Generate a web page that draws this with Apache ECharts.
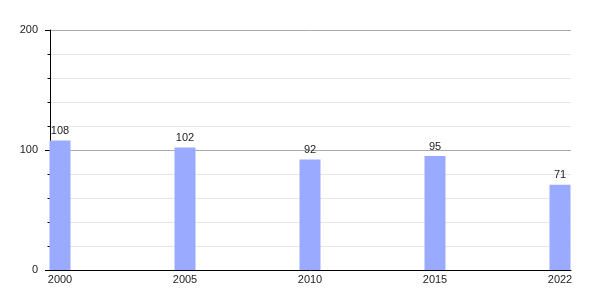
<!DOCTYPE html>
<html><head><meta charset="utf-8">
<script src="https://cdn.jsdelivr.net/npm/echarts@6/dist/echarts.min.js"></script>
<style>html,body{margin:0;padding:0;background:#fff}#c{width:600px;height:300px}</style>
</head><body><div id="c"></div>
<script>
const years = ['2000', '2005', '2010', '2015', '2022'];
const values = [108, 102, 92, 95, 71];
const yTicks = [0, 100, 200];

const chart = echarts.init(document.getElementById('c'), null, {renderer: 'canvas'});
const FONT = 'Liberation Sans, Arial, sans-serif';
chart.setOption({
  animation: false,
  grid: {left: 50, right: 29, top: 30, bottom: 30, containLabel: false},
  xAxis: {
    type: 'value',
    min: -0.08, max: 4.088,
    axisLine: {show: true, onZero: false, lineStyle: {color: '#000', width: 1}},
    axisTick: {show: false},
    splitLine: {show: false},
    axisLabel: {
      customValues: years.map((y, i) => i),
      formatter: v => years[Math.round(v)],
      color: '#222', fontSize: 11, fontFamily: FONT, margin: 4
    }
  },
  yAxis: {
    type: 'value',
    min: yTicks[0], max: yTicks[yTicks.length - 1], interval: 100,
    axisLine: {show: true, onZero: false, lineStyle: {color: '#000', width: 1}},
    axisTick: {show: true, length: 5, lineStyle: {color: '#000'}},
    minorTick: {show: true, splitNumber: 5, length: 2.5, lineStyle: {color: '#000'}},
    splitLine: {show: true, lineStyle: {color: '#aaaaaa', width: 1}},
    minorSplitLine: {show: true, lineStyle: {color: '#e6e6e6', width: 1}},
    axisLabel: {color: '#222', fontSize: 11, fontFamily: FONT, margin: 12}
  },
  series: [{
    type: 'bar',
    barWidth: 21,
    data: values.map((v, i) => [i, v]),
    itemStyle: {color: '#99aaff'},
    label: {show: true, position: 'top', distance: 4, color: '#222', fontSize: 11, fontFamily: FONT,
      formatter: p => p.value[1]}
  }]
});
</script></body></html>
